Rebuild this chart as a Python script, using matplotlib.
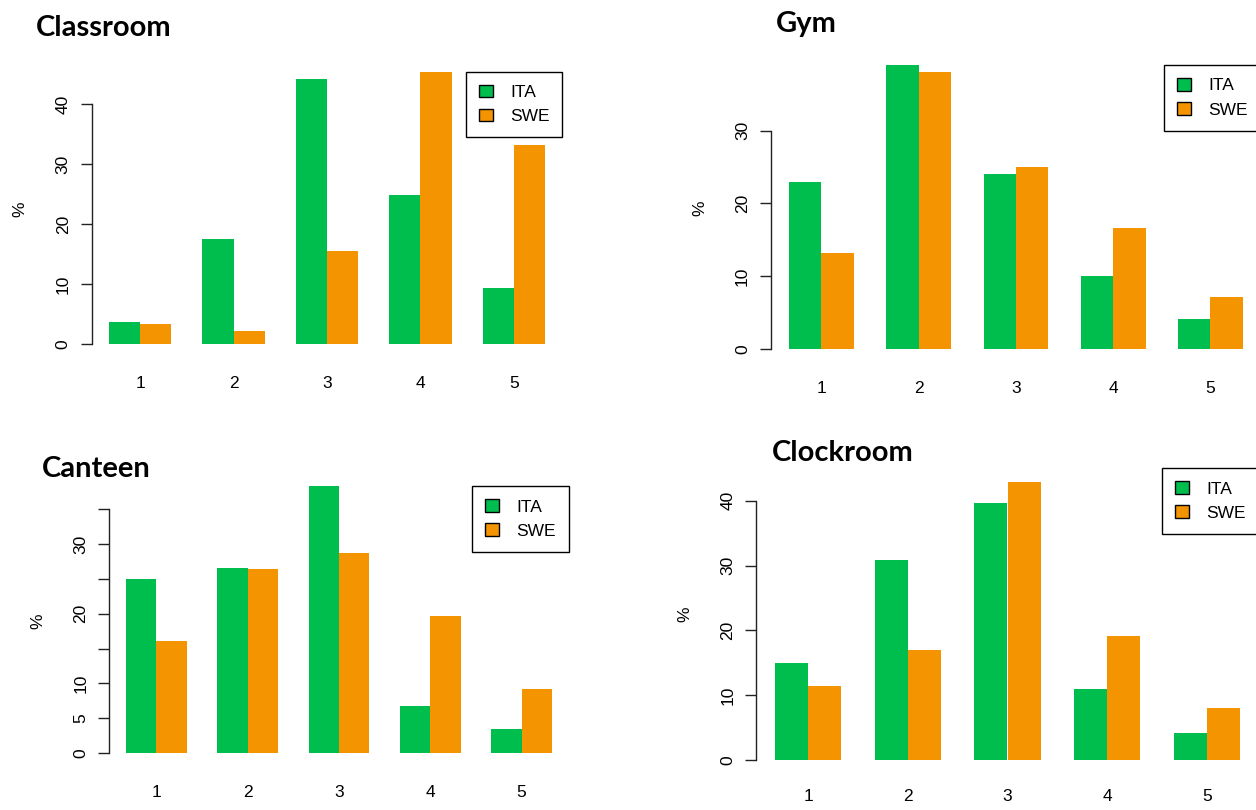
import numpy as np
import matplotlib
matplotlib.use("Agg")
import matplotlib.pyplot as plt
from matplotlib.patches import Patch

plt.rcParams['font.family'] = ['Liberation Sans', 'DejaVu Sans']

# Share of answers (%) for each score 1-5, Italy vs Sweden
scores = ['1', '2', '3', '4', '5']
groups = ['ITA', 'SWE']

classroom_ita = [3.7, 17.5, 44.2, 24.9, 9.3]
classroom_swe = [3.3, 2.2, 15.5, 45.4, 33.2]
gym_ita = [23.0, 39.0, 24.0, 10.0, 4.1]
gym_swe = [13.2, 38.0, 25.0, 16.7, 7.2]
canteen_ita = [25.0, 26.6, 38.3, 6.7, 3.4]
canteen_swe = [16.1, 26.4, 28.7, 19.6, 9.2]
clockroom_ita = [15.0, 30.8, 39.7, 11.0, 4.1]
clockroom_swe = [11.4, 17.0, 42.9, 19.2, 8.0]

col_ita = '#00BE4E'
col_swe = '#F39400'

W, H = 1256, 810
fig = plt.figure(figsize=(W / 100, H / 100), dpi=100)


def add_panel(title, ita, swe, box, title_xy, yticks, ylabels=None, ymax=None):
    left, top, right, bottom = box
    ax = fig.add_axes([left / W, 1 - bottom / H, (right - left) / W, (bottom - top) / H])
    width_px = right - left

    n = len(scores)
    starts = 1 + 3 * np.arange(n)
    ax.bar(starts + 0.5, ita, width=1.0, color=col_ita, linewidth=0)
    ax.bar(starts + 1.5, swe, width=1.0, color=col_swe, linewidth=0)

    top_val = ymax if ymax is not None else max(max(ita), max(swe))
    low = 0 if ymax is not None else -0.01 * top_val
    ax.set_ylim(low, top_val)
    ax.set_xlim(1 - 0.56, 15 + 0.56)

    for s in ['top', 'right', 'bottom']:
        ax.spines[s].set_visible(False)
    ax.spines['left'].set_bounds(yticks[0], yticks[-1])
    ax.spines['left'].set_linewidth(1.0)
    ax.spines['left'].set_color('#222222')

    ax.set_yticks(yticks)
    ax.set_yticklabels(ylabels if ylabels is not None else [str(t) for t in yticks],
                       rotation=90, va='center')
    ax.tick_params(axis='y', length=8, width=1.0, color='#222222', pad=7, labelsize=12.5)
    ax.set_xticks(starts + 1)
    ax.set_xticklabels(scores)
    ax.tick_params(axis='x', length=0, pad=21, labelsize=12.5)

    ax.set_ylabel('%', fontsize=12.5)
    ax.yaxis.set_label_coords(-64 / width_px, 0.5)

    handles = [Patch(facecolor=col_ita, edgecolor='black', linewidth=1.0),
               Patch(facecolor=col_swe, edgecolor='black', linewidth=1.0)]
    leg = ax.legend(handles, groups, loc='upper right', bbox_to_anchor=(1, 1),
                    borderaxespad=0, fontsize=12.5, handlelength=0.8, handleheight=0.75,
                    handletextpad=1.0, borderpad=0.75, labelspacing=0.5,
                    fancybox=False, framealpha=1)
    leg.get_frame().set_edgecolor('black')
    leg.get_frame().set_linewidth(1.0)

    fig.text(title_xy[0] / W, 1 - title_xy[1] / H, title, fontsize=21,
             fontweight='bold', family='Lato', ha='left', va='center')
    return ax


add_panel('Classroom', classroom_ita, classroom_swe, (91.6, 71.6, 562.4, 346.7),
          (36, 28), [0, 10, 20, 30, 40])
add_panel('Gym', gym_ita, gym_swe, (770.9, 65.0, 1261.0, 352.1),
          (776, 24), [0, 10, 20, 30])
add_panel('Canteen', canteen_ita, canteen_swe, (109.0, 486.2, 569.0, 755.7),
          (42, 469), [0, 5, 10, 15, 20, 25, 30, 35],
          ylabels=['0', '5', '10', '', '20', '', '30', ''])
add_panel('Clockroom', clockroom_ita, clockroom_swe, (756.4, 468.3, 1258.6, 760.0),
          (772, 453), [0, 10, 20, 30, 40], ymax=45)

fig.savefig('out.png', dpi=100)
